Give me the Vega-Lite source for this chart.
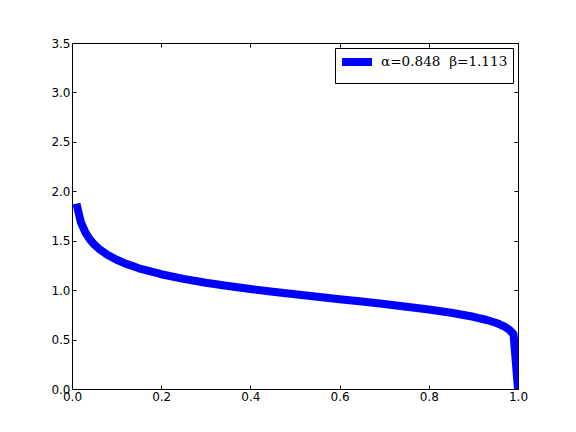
{
  "$schema": "https://vega.github.io/schema/vega-lite/v6.json",
  "width": 446,
  "height": 346,
  "autosize": "none",
  "padding": {"left": 72, "top": 43, "right": 58, "bottom": 43},
  "background": "white",
  "config": {
    "view": {"stroke": "black", "strokeWidth": 1},
    "axis": {
      "labelFont": "DejaVu Sans",
      "labelFontSize": 12,
      "labelColor": "black",
      "domain": false,
      "grid": false,
      "tickColor": "black",
      "tickSize": -4,
      "labelFlush": false,
      "labelPadding": 10,
      "title": null
    }
  },
  "data": {
    "values": [
      {"x": 0.01, "y": 1.8754, "s": "α=0.848\u00a0\u00a0β=1.113"},
      {"x": 0.02, "y": 1.6858, "s": "α=0.848\u00a0\u00a0β=1.113"},
      {"x": 0.03, "y": 1.5833, "s": "α=0.848\u00a0\u00a0β=1.113"},
      {"x": 0.04, "y": 1.5138, "s": "α=0.848\u00a0\u00a0β=1.113"},
      {"x": 0.05, "y": 1.4615, "s": "α=0.848\u00a0\u00a0β=1.113"},
      {"x": 0.06, "y": 1.4198, "s": "α=0.848\u00a0\u00a0β=1.113"},
      {"x": 0.08, "y": 1.3558, "s": "α=0.848\u00a0\u00a0β=1.113"},
      {"x": 0.10, "y": 1.3074, "s": "α=0.848\u00a0\u00a0β=1.113"},
      {"x": 0.12, "y": 1.2684, "s": "α=0.848\u00a0\u00a0β=1.113"},
      {"x": 0.15, "y": 1.2213, "s": "α=0.848\u00a0\u00a0β=1.113"},
      {"x": 0.20, "y": 1.1611, "s": "α=0.848\u00a0\u00a0β=1.113"},
      {"x": 0.25, "y": 1.1142, "s": "α=0.848\u00a0\u00a0β=1.113"},
      {"x": 0.30, "y": 1.0753, "s": "α=0.848\u00a0\u00a0β=1.113"},
      {"x": 0.35, "y": 1.0417, "s": "α=0.848\u00a0\u00a0β=1.113"},
      {"x": 0.40, "y": 1.0115, "s": "α=0.848\u00a0\u00a0β=1.113"},
      {"x": 0.45, "y": 0.9838, "s": "α=0.848\u00a0\u00a0β=1.113"},
      {"x": 0.50, "y": 0.9579, "s": "α=0.848\u00a0\u00a0β=1.113"},
      {"x": 0.55, "y": 0.9329, "s": "α=0.848\u00a0\u00a0β=1.113"},
      {"x": 0.60, "y": 0.9085, "s": "α=0.848\u00a0\u00a0β=1.113"},
      {"x": 0.65, "y": 0.8841, "s": "α=0.848\u00a0\u00a0β=1.113"},
      {"x": 0.70, "y": 0.8590, "s": "α=0.848\u00a0\u00a0β=1.113"},
      {"x": 0.75, "y": 0.8328, "s": "α=0.848\u00a0\u00a0β=1.113"},
      {"x": 0.80, "y": 0.8041, "s": "α=0.848\u00a0\u00a0β=1.113"},
      {"x": 0.85, "y": 0.7712, "s": "α=0.848\u00a0\u00a0β=1.113"},
      {"x": 0.90, "y": 0.7303, "s": "α=0.848\u00a0\u00a0β=1.113"},
      {"x": 0.93, "y": 0.6980, "s": "α=0.848\u00a0\u00a0β=1.113"},
      {"x": 0.95, "y": 0.6698, "s": "α=0.848\u00a0\u00a0β=1.113"},
      {"x": 0.96, "y": 0.6521, "s": "α=0.848\u00a0\u00a0β=1.113"},
      {"x": 0.97, "y": 0.6302, "s": "α=0.848\u00a0\u00a0β=1.113"},
      {"x": 0.98, "y": 0.6011, "s": "α=0.848\u00a0\u00a0β=1.113"},
      {"x": 0.99, "y": 0.5549, "s": "α=0.848\u00a0\u00a0β=1.113"},
      {"x": 1.00, "y": 0.0, "s": "α=0.848\u00a0\u00a0β=1.113"}
    ]
  },
  "layer": [
    {
      "mark": {"type": "line", "strokeWidth": 8, "clip": true, "strokeJoin": "round", "strokeCap": "butt"},
      "encoding": {
        "x": {
          "field": "x", "type": "quantitative",
          "scale": {"domain": [0, 1], "nice": false, "zero": false},
          "axis": {"values": [0, 0.2, 0.4, 0.6, 0.8, 1.0], "format": ".1f", "labelPadding": 6}
        },
        "y": {
          "field": "y", "type": "quantitative",
          "scale": {"domain": [0, 3.5], "nice": false},
          "axis": {"values": [0, 0.5, 1, 1.5, 2, 2.5, 3, 3.5], "format": ".1f", "labelPadding": 6}
        },
        "color": {
          "field": "s", "type": "nominal",
          "scale": {"range": ["#0000ff"]},
          "legend": {
            "title": null,
            "orient": "top-right",
            "offset": 5,
            "symbolType": "M-3,0H3",
            "symbolStrokeWidth": 8,
            "symbolSize": 100,
            "symbolOffset": 8,
            "labelOffset": 15,
            "labelFont": "DejaVu Serif",
            "labelFontSize": 13.6,
            "labelColor": "black",
            "strokeColor": "black",
            "fillColor": "white",
            "padding": 5,
            "cornerRadius": 0
          }
        }
      }
    },
    {
      "mark": {"type": "rule", "opacity": 0},
      "encoding": {
        "x": {"datum": 0, "type": "quantitative", "axis": {"orient": "top", "values": [0, 0.2, 0.4, 0.6, 0.8, 1.0], "labels": false}},
        "y": {"datum": 0, "type": "quantitative", "axis": {"orient": "right", "values": [0, 0.5, 1, 1.5, 2, 2.5, 3, 3.5], "labels": false}}
      }
    }
  ],
  "resolve": {"axis": {"x": "independent", "y": "independent"}}
}
